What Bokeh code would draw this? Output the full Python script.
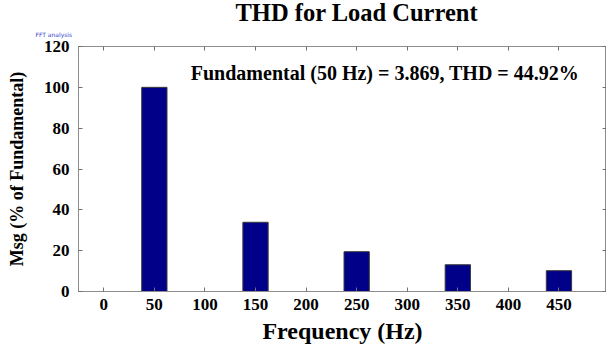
from bokeh.plotting import figure
from bokeh.models import Range1d, LinearAxis, FixedTicker, Label, Title
from bokeh.embed import file_html
from bokeh.resources import INLINE

# Data
harmonic_freqs = [50, 150, 250, 350, 450]
magnitudes = [100, 33.9, 19.5, 13.1, 10.2]
x_ticks = [0, 50, 100, 150, 200, 250, 300, 350, 400, 450]
y_ticks = [0, 20, 40, 60, 80, 100, 120]
title_text = "THD for Load Current"
annotation_text = "Fundamental (50 Hz) = 3.869, THD = 44.92%"
x_label = "Frequency (Hz)"
y_label = "Msg (% of Fundamental)"

SERIF = "Liberation Serif"
AX_COLOR = "#8c8c8c"

p = figure(width=606, height=352, output_backend="svg", toolbar_location=None,
           x_range=Range1d(-25, 497), y_range=Range1d(0, 120),
           min_border_left=78, min_border_right=0, min_border_top=46, min_border_bottom=61)
p.background_fill_color = "white"
p.border_fill_color = "white"
p.outline_line_color = AX_COLOR
p.xgrid.visible = False
p.ygrid.visible = False

p.vbar(x=harmonic_freqs, top=magnitudes, width=25, fill_color="#000088",
       line_color="#3a3a3a", line_width=1)

for ax in (p.xaxis[0], p.yaxis[0]):
    ax.axis_line_color = AX_COLOR
    ax.major_tick_line_color = "#707070"
    ax.major_tick_in = 4
    ax.major_tick_out = 0
    ax.minor_tick_line_color = None
    ax.major_label_text_font = SERIF
    ax.major_label_text_font_style = "bold"
    ax.major_label_text_font_size = "17px"
    ax.major_label_text_color = "black"
    ax.axis_label_text_font = SERIF
    ax.axis_label_text_font_style = "bold"
    ax.axis_label_text_color = "black"

p.xaxis[0].ticker = FixedTicker(ticks=x_ticks)
p.yaxis[0].ticker = FixedTicker(ticks=y_ticks)
p.xaxis[0].axis_label = x_label
p.xaxis[0].axis_label_text_font_size = "24px"
p.xaxis[0].major_label_standoff = 7
p.xaxis[0].axis_label_standoff = 5
p.yaxis[0].axis_label = y_label
p.yaxis[0].axis_label_text_font_size = "18px"
p.yaxis[0].major_label_standoff = 9
p.yaxis[0].axis_label_standoff = 14


def blank_axis():
    return LinearAxis(axis_line_color=AX_COLOR,
                      major_tick_line_color="#707070", major_tick_in=4, major_tick_out=0,
                      minor_tick_line_color=None, major_label_standoff=0,
                      major_label_text_font_size="1px")


top_ax = blank_axis()
top_ax.ticker = FixedTicker(ticks=x_ticks)
top_ax.major_label_overrides = {t: "" for t in x_ticks}
right_ax = blank_axis()
right_ax.ticker = FixedTicker(ticks=y_ticks)
right_ax.major_label_overrides = {t: "" for t in y_ticks}
p.add_layout(top_ax, "above")
p.add_layout(right_ax, "right")

p.title = Title(text=title_text, align="left", offset=157, text_font=SERIF,
                text_font_style="bold", text_font_size="24.5px", text_color="black",
                standoff=-10)
p.add_layout(Title(text="FFT analysis", align="left", offset=-43,
                   text_font="DejaVu Sans", text_font_style="normal",
                   text_font_size="6px", text_color="#3344cc", standoff=17), "above")

p.add_layout(Label(x=86, y=107, text=annotation_text, text_font=SERIF,
                   text_font_style="bold", text_font_size="20px",
                   text_baseline="middle", text_color="black"))

open("out.html", "w").write(file_html(p, INLINE))
